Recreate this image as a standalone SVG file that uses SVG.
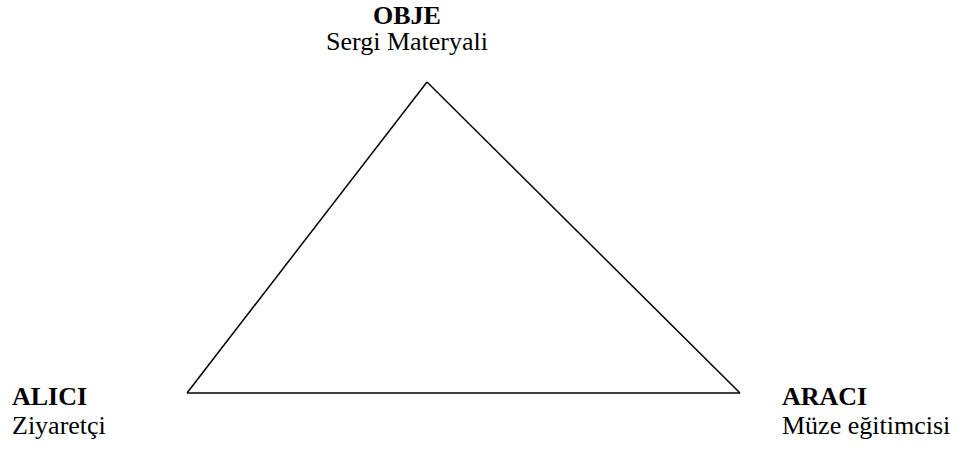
<svg xmlns="http://www.w3.org/2000/svg" width="973" height="454" viewBox="0 0 973 454">
<style>
text{font-family:"Liberation Serif","Times New Roman",serif;font-size:26px;fill:#000}
.b{font-weight:bold}
.e{fill:none;stroke:#000;stroke-width:1.5}
</style>
<rect width="973" height="454" fill="#fff"/>
<g id="connectors">
<line class="e" x1="427" y1="82" x2="187" y2="393"/>
<line class="e" x1="427" y1="82" x2="740" y2="393"/>
<line class="e" x1="187" y1="393" x2="740" y2="393"/>
</g>
<g id="obje">
<text class="b" x="407" y="23.5" text-anchor="middle">OBJE</text>
<text x="407" y="50" text-anchor="middle">Sergi Materyali</text>
</g>
<g id="alici">
<text class="b" x="12" y="405">ALICI</text>
<text x="12" y="434">Ziyaretçi</text>
</g>
<g id="araci">
<text class="b" x="782" y="405">ARACI</text>
<text x="782" y="434">Müze eğitimcisi</text>
</g>
</svg>
